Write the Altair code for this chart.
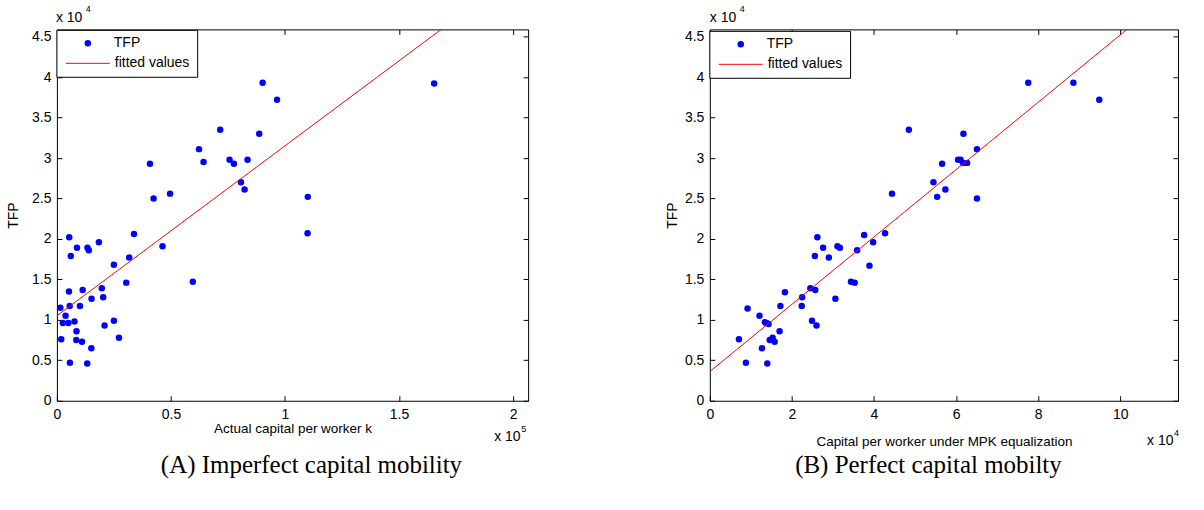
import altair as alt
import pandas as pd

# ---------------- data ----------------
# Panel A: actual capital per worker k vs TFP
a_x = [90200, 96500, 71600, 88700, 62300, 64300, 75700, 77600, 83600, 80700,
       82300, 40800, 42400, 49600, 33800, 46300, 59600, 5400, 8800, 13400,
       14000, 18400, 6100, 25000, 31700, 30400, 5300, 11300, 19700, 20300,
       15200, 1500, 5600, 10100, 3800, 2600, 5000, 7700, 8600, 25000,
       20900, 1900, 8500, 11000, 27200, 15100, 5700, 13300, 165400, 110000,
       109900]
a_y = [39300, 37200, 33500, 33000, 31100, 29500, 29800, 29300, 29800, 27000,
       26100, 29300, 25000, 25600, 20600, 19100, 14700, 20200, 18900, 18900,
       18600, 19600, 17900, 16800, 17700, 14600, 13500, 13700, 13900, 12800,
       12600, 11500, 11700, 11700, 10500, 9600, 9600, 9800, 8600, 9900,
       9300, 7600, 7500, 7300, 7800, 6500, 4700, 4600, 39200, 25200,
       20700]
a_fit_x = [0, 206600]
a_fit_y = [10500, 53900]

# Panel B: capital per worker under MPK equalization vs TFP
b_x = [48500, 56600, 54500, 55400, 57400, 44400, 42700, 37600, 39800, 35900,
       38900, 34400, 35300, 26200, 27600, 25600, 29000, 31100, 31700, 24500,
       25700, 22500, 30600, 18300, 17200, 22400, 9200, 12100, 13400, 14300,
       24900, 26000, 7100, 17000, 14600, 15300, 15800, 12700, 8800, 14000,
       77600, 88600, 94900, 61800, 65100, 60500, 61100, 61700, 62700, 65100,
       13800]
b_y = [33500, 29300, 27000, 25200, 26100, 25600, 20700, 20500, 19600, 18600,
       16700, 14700, 14600, 20200, 18900, 17900, 17700, 19100, 18900, 13900,
       13700, 12800, 12600, 13400, 11700, 11700, 11400, 10500, 9700, 9500,
       9900, 9300, 7600, 8600, 7500, 7800, 7300, 6500, 4700, 4600,
       39300, 39300, 37200, 33000, 31100, 29800, 29800, 29400, 29400, 25000,
       9600]
b_fit_x = [0, 114100]
b_fit_y = [3600, 51070]

y_ticks = [0, 5000, 10000, 15000, 20000, 25000, 30000, 35000, 40000, 45000]
a_x_ticks = [0, 50000, 100000, 150000, 200000]
b_x_ticks = [0, 20000, 40000, 60000, 80000, 100000]

SANS = "Liberation Sans"
SERIF = "Liberation Serif"
BLUE = "#0000ff"
RED = "#ff0000"


def one_row():
    return pd.DataFrame({"k": [0]})


def text_at(txt, x, y, size=14, font=SANS, align="left", baseline="alphabetic"):
    return alt.Chart(one_row()).mark_text(
        text=txt, font=font, fontSize=size, color="black", align=align, baseline=baseline
    ).encode(x=alt.value(x), y=alt.value(y))


def panel(xs, ys, fx, fy, xdom, xticks, xdiv, W, H, xtitle, xtitle_y, ytitle_x,
          caption, cap_x, exp_x, leg_y0, expo_x_label, extent):
    pts = pd.DataFrame({"x": xs, "y": ys})
    fit = pd.DataFrame({"x": fx, "y": fy})
    xscale = alt.Scale(domain=xdom, nice=False, zero=False)
    yscale = alt.Scale(domain=[0, 45900], nice=False, zero=False)
    common = dict(domain=False, grid=False, tickSize=5, offset=-5, tickColor="black",
                  tickWidth=1, labelFont=SANS, labelFontSize=14, labelColor="black")

    points = alt.Chart(pts).mark_circle(size=42, color=BLUE, opacity=1).encode(
        x=alt.X("x:Q", scale=xscale,
                axis=alt.Axis(orient="bottom", values=xticks,
                              labelExpr=f"'' + (datum.value / {xdiv})",
                              labelPadding=7, labelFlush=False,
                              title=xtitle, titleFont=SANS, titleFontSize=13.5,
                              titleFontWeight="normal", titleColor="black",
                              titleX=W / 2, titleY=xtitle_y, titleBaseline="middle",
                              titleAlign="center", **common)),
        y=alt.Y("y:Q", scale=yscale,
                axis=alt.Axis(orient="left", values=y_ticks,
                              labelExpr="'' + (datum.value / 10000)",
                              labelPadding=6, labelFlush=False,
                              title="TFP", titleFont=SANS, titleFontSize=14,
                              titleFontWeight="normal", titleColor="black",
                              titleX=ytitle_x, titleY=H / 2, titleAngle=270,
                              titleBaseline="middle", titleAlign="center", **common)),
    )
    line = alt.Chart(fit).mark_line(color=RED, strokeWidth=1, clip=True).encode(
        x=alt.X("x:Q", scale=xscale,
                axis=alt.Axis(orient="top", values=xticks, labels=False, title="", **common)),
        y=alt.Y("y:Q", scale=yscale,
                axis=alt.Axis(orient="right", values=y_ticks, labels=False, title="", **common)),
    )

    # legend (manual)
    box = alt.Chart(one_row()).mark_rect(fill="white", stroke="black", strokeWidth=1).encode(
        x=alt.value(0), x2=alt.value(141), y=alt.value(leg_y0), y2=alt.value(leg_y0 + 47))
    ldot = alt.Chart(one_row()).mark_circle(size=42, color=BLUE, opacity=1).encode(
        x=alt.value(31), y=alt.value(leg_y0 + 13))
    lline = alt.Chart(one_row()).mark_rule(color=RED, strokeWidth=1).encode(
        x=alt.value(9), x2=alt.value(53), y=alt.value(leg_y0 + 33))
    ltxt1 = text_at("TFP", 57, leg_y0 + 13, baseline="middle")
    ltxt2 = text_at("fitted values", 58, leg_y0 + 33, baseline="middle")

    # exponent labels
    top_exp = text_at("x 10", exp_x, -7)
    top_sup = text_at("4", exp_x + 30, -17, size=9)
    bot_exp = text_at("x 10", expo_x_label[0], expo_x_label[1])
    bot_sup = text_at(expo_x_label[2], expo_x_label[0] + 27, expo_x_label[1] - 9, size=9)

    cap = text_at(caption, cap_x, 444, size=25, font=SERIF, align="center")

    # invisible extent marker to fix the canvas size
    ext = alt.Chart(one_row()).mark_rect(opacity=0).encode(
        x=alt.value(extent[0]), x2=alt.value(extent[1]),
        y=alt.value(extent[2]), y2=alt.value(extent[3]))

    return alt.layer(points, line, box, ldot, lline, ltxt1, ltxt2,
                     top_exp, top_sup, bot_exp, bot_sup, cap, ext).resolve_scale(
        x="independent", y="independent").properties(width=W, height=H)


WA, WB, H = 472, 469, 372

panelA = panel(a_x, a_y, a_fit_x, a_fit_y, [0, 206600], a_x_ticks, 100000, WA, H,
               "Actual capital per worker k", 33, -48,
               "(A) Imperfect capital mobility", 255, -1, 1, (438, 412, "5"),
               (-56, -55, -28, -27))
panelB = panel(b_x, b_y, b_fit_x, b_fit_y, [0, 114100], b_x_ticks, 10000, WB, H,
               "Capital per worker under MPK equalization", 46, -42,
               "(B) Perfect capital mobilty", 219, 0, 2, (438, 416, "4"),
               (WB + 24, WB + 25, H + 109, H + 110))

chart = alt.hconcat(panelA, panelB, spacing=182, bounds="flush").properties(
    padding=0, background="white"
).configure_view(stroke="black", strokeWidth=1)

chart.save("out.html", embed_options={"renderer": "svg", "actions": False})
